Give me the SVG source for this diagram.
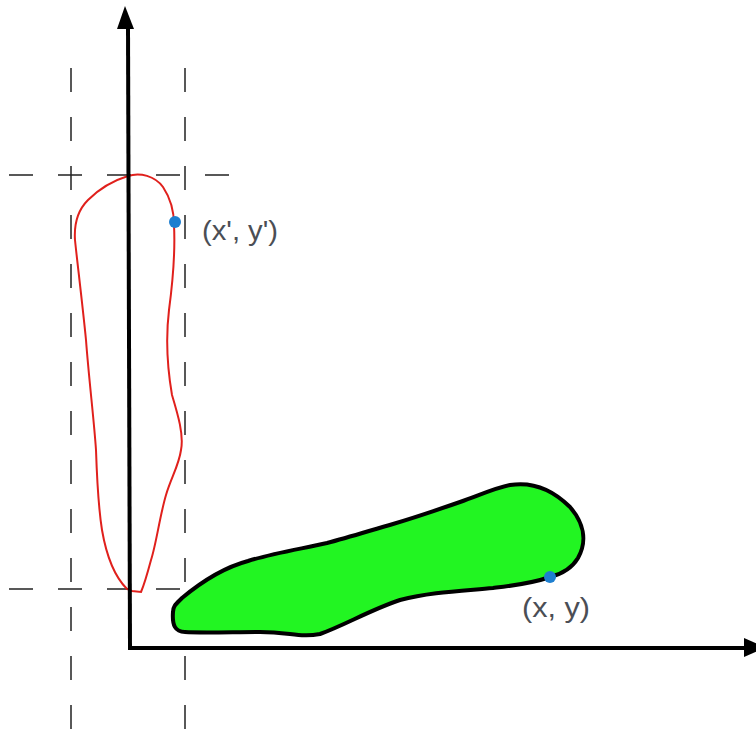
<svg xmlns="http://www.w3.org/2000/svg" width="756" height="736" viewBox="0 0 756 736">
<style>
.guide{stroke:#222;stroke-width:1.5;stroke-dasharray:24 25;fill:none}
.axis{stroke:#000;stroke-width:4;fill:none}
.lbl{font-family:"Liberation Sans",Arial,sans-serif;font-size:28px;fill:#4b4e55}
.pt{fill:#1e7fd0}
</style>
<rect width="756" height="736" fill="#fff"/>
<g id="guides">
<line class="guide" x1="71" y1="68" x2="71" y2="736"/>
<line class="guide" x1="185" y1="68" x2="185" y2="736"/>
<line class="guide" x1="9" y1="175" x2="235" y2="175"/>
<line class="guide" x1="9" y1="589" x2="235" y2="589"/>
</g>
<g id="red-shape">
<path d="M128,176 C140,172 155,176 163,187 C171,199 174,212 174,225 C175,245 173,280 169,310 C166,335 166,360 172,395 C178,415 184,435 181,450 C179,465 171,478 166,495 C160,515 156,545 151,560 C147,575 144,585 141,592 L132,591 L127,589 C120,582 108,565 102,530 C98,505 97,480 96,450 C94,420 89,380 86,340 C82,300 77,260 75,240 C74,225 78,210 88,200 C100,188 115,180 128,176 Z" fill="none" stroke="#e0201c" stroke-width="2"/>
</g>
<g id="green-shape">
<path d="M510,485 C535,481 555,492 570,507 C583,522 588,540 578,558 C572,568 562,574 550,577 C530,584 510,586 493,588 C460,591 430,592 400,600 C370,610 345,625 320,634 C300,638 290,632 260,632 C235,632 200,633 185,632 C175,632 172,625 173,612 C173,606 176,604 182,598 C200,583 222,568 248,561 C270,554 300,549 327,543 C350,537 375,529 393,524 C420,516 440,509 460,502 C480,495 495,488 510,485 Z" fill="#22f522" stroke="#000" stroke-width="4" stroke-linejoin="round"/>
</g>
<g id="axes">
<line class="axis" x1="128" y1="26" x2="130" y2="648"/>
<polygon points="125,6 117,29 134,29" fill="#000"/>
<line class="axis" x1="128" y1="648" x2="748" y2="648"/>
<polygon points="744,638 766,647.5 744,657" fill="#000"/>
</g>
<g id="point-prime">
<circle class="pt" cx="175" cy="222" r="6"/>
<text class="lbl" x="202" y="240" textLength="76" lengthAdjust="spacingAndGlyphs">(x', y')</text>
</g>
<g id="point-xy">
<circle class="pt" cx="550" cy="577" r="6"/>
<text class="lbl" x="522" y="617" textLength="68" lengthAdjust="spacingAndGlyphs">(x, y)</text>
</g>
</svg>
